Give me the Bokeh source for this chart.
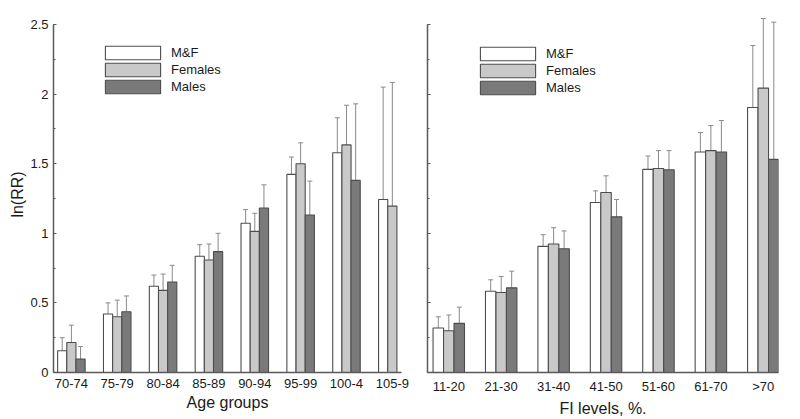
from bokeh.plotting import figure
from bokeh.models import (ColumnDataSource, Whisker, TeeHead, FixedTicker, SingleIntervalTicker,
                          Legend, LegendItem, Range1d)
from bokeh.layouts import row
from bokeh.embed import file_html
from bokeh.resources import INLINE

# ---------------- data ----------------
age_groups = ["70-74", "75-79", "80-84", "85-89", "90-94", "95-99", "100-4", "105-9"]
age_mf = [0.156, 0.42, 0.62, 0.835, 1.072, 1.423, 1.579, 1.243]
age_mf_lo = [0.065, 0.336, 0.535, 0.743, 0.966, 1.298, 1.327, 0.444]
age_mf_hi = [0.25, 0.50, 0.70, 0.918, 1.17, 1.548, 1.83, 2.05]
age_f = [0.216, 0.40, 0.59, 0.808, 1.014, 1.50, 1.635, 1.195]
age_f_lo = [0.09, 0.29, 0.47, 0.69, 0.88, 1.351, 1.351, 0.319]
age_f_hi = [0.34, 0.52, 0.707, 0.923, 1.144, 1.65, 1.92, 2.084]
age_m = [0.096, 0.436, 0.65, 0.868, 1.182, 1.132, 1.38]
age_m_lo = [0.007, 0.317, 0.53, 0.736, 1.02, 0.88, 0.827]
age_m_hi = [0.187, 0.55, 0.77, 1.0, 1.348, 1.375, 1.93]

fi_levels = ["11-20", "21-30", "31-40", "41-50", "51-60", "61-70", ">70"]
fi_mf = [0.32, 0.584, 0.906, 1.221, 1.459, 1.584, 1.904]
fi_mf_lo = [0.24, 0.505, 0.817, 1.132, 1.363, 1.442, 1.459]
fi_mf_hi = [0.40, 0.666, 0.99, 1.305, 1.555, 1.724, 2.349]
fi_f = [0.30, 0.575, 0.923, 1.293, 1.466, 1.594, 2.043]
fi_f_lo = [0.185, 0.457, 0.80, 1.18, 1.334, 1.413, 1.543]
fi_f_hi = [0.413, 0.69, 1.04, 1.413, 1.594, 1.774, 2.543]
fi_m = [0.353, 0.608, 0.889, 1.118, 1.457, 1.584, 1.531]
fi_m_lo = [0.233, 0.48, 0.757, 0.99, 1.315, 1.358, 0.541]
fi_m_hi = [0.469, 0.728, 1.017, 1.243, 1.594, 1.81, 2.517]

y_ticks = [0, 0.5, 1, 1.5, 2, 2.5]
y_tick_labels = ["0", "0.5", "1", "1.5", "2", "2.5"]

series_names = ["M&F", "Females", "Males"]
series_fill = ["#ffffff", "#c9c9c9", "#7a7a7a"]
offsets = [-0.2, 0.0, 0.2]
BAR_W = 0.2

FONT = "Liberation Sans"
AXIS_COL = "#5a5a5a"
TEXT_COL = "#1a1a1a"

FRAME_H = 356
Y_END = 2.5 * FRAME_H / 348.0   # a little headroom above the 2.5 axis end for whiskers


def make_panel(cats, series, x_start, x_end, frame_w, show_y_labels, y_label,
               x_label, border_left, border_right, legend_x, legend_y):
    p = figure(output_backend="svg", toolbar_location=None,
               frame_width=frame_w, frame_height=FRAME_H,
               min_border_left=border_left, min_border_right=border_right,
               min_border_top=16, min_border_bottom=47,
               x_range=Range1d(x_start, x_end), y_range=Range1d(0, Y_END))
    p.outline_line_color = None
    p.grid.grid_line_color = None
    p.background_fill_color = "white"
    p.border_fill_color = "white"

    items = []
    for (vals, lo, hi), name, col, off in zip(series, series_names, series_fill, offsets):
        n = len(vals)
        xs = [i + off for i in range(n)]
        src = ColumnDataSource(dict(x=xs, top=vals, lo=lo[:n], hi=hi[:n]))
        r = p.vbar(x="x", top="top", bottom=0, width=BAR_W, source=src,
                   fill_color=col, line_color="#4d4d4d", line_width=1.1)
        w = Whisker(source=src, base="x", upper="hi", lower="lo",
                    line_color="#8a8a8a", line_width=1,
                    upper_head=TeeHead(size=5, line_color="#8a8a8a", line_width=1),
                    lower_head=TeeHead(size=5, line_color="#8a8a8a", line_width=1))
        p.add_layout(w)
        items.append(LegendItem(label=name, renderers=[r]))

    legend = Legend(items=items, location=(legend_x, legend_y),
                    glyph_width=69, glyph_height=17, label_height=17, spacing=0,
                    padding=0, margin=0, label_standoff=4,
                    border_line_color=None, background_fill_alpha=0,
                    label_text_font=FONT, label_text_font_size="13px",
                    label_text_color=TEXT_COL)
    p.add_layout(legend)

    # x axis
    xa = p.xaxis[0]
    xa.ticker = FixedTicker(ticks=list(range(len(cats))))
    xa.major_label_overrides = {i: c for i, c in enumerate(cats)}
    xa.major_tick_line_color = None
    xa.minor_tick_line_color = None
    xa.axis_line_color = AXIS_COL
    xa.axis_line_width = 1.5
    xa.major_label_text_font = FONT
    xa.major_label_text_font_size = "13px"
    xa.major_label_text_color = TEXT_COL
    xa.major_label_standoff = 0
    xa.axis_label = x_label
    xa.axis_label_text_font = FONT
    xa.axis_label_text_font_size = "16px"
    xa.axis_label_text_font_style = "normal"
    xa.axis_label_text_color = TEXT_COL
    xa.axis_label_standoff = 3

    # y axis
    ya = p.yaxis[0]
    ya.bounds = (0, 2.5)
    ya.ticker = SingleIntervalTicker(interval=0.5, num_minor_ticks=2)
    ya.axis_line_color = AXIS_COL
    ya.axis_line_width = 1.5
    ya.major_tick_in = 3
    ya.major_tick_out = 0
    ya.minor_tick_in = 2
    ya.minor_tick_out = 0
    ya.major_tick_line_color = AXIS_COL
    ya.minor_tick_line_color = AXIS_COL
    if show_y_labels:
        ya.major_label_overrides = dict(zip(y_ticks, y_tick_labels))
        ya.major_label_text_font = FONT
        ya.major_label_text_font_size = "13px"
        ya.major_label_text_color = TEXT_COL
        ya.major_label_standoff = 5
        ya.axis_label = y_label
        ya.axis_label_text_font = FONT
        ya.axis_label_text_font_size = "16px"
        ya.axis_label_text_font_style = "normal"
        ya.axis_label_text_color = TEXT_COL
        ya.axis_label_standoff = 1
    else:
        ya.major_label_overrides = {t: "" for t in y_ticks}
        ya.major_label_standoff = 0
    return p


p1 = make_panel(age_groups,
                [(age_mf, age_mf_lo, age_mf_hi), (age_f, age_f_lo, age_f_hi), (age_m, age_m_lo, age_m_hi)],
                -0.39, 7.2, 348, True, "ln(RR)", "Age groups", 53, 11, 45, 277)
p2 = make_panel(fi_levels,
                [(fi_mf, fi_mf_lo, fi_mf_hi), (fi_f, fi_f_lo, fi_f_hi), (fi_m, fi_m_lo, fi_m_hi)],
                -0.406, 6.29, 351, False, "", "FI levels, %.", 15, 12, 46, 276)

layout = row(p1, p2)
open("out.html", "w").write(file_html(layout, INLINE))
